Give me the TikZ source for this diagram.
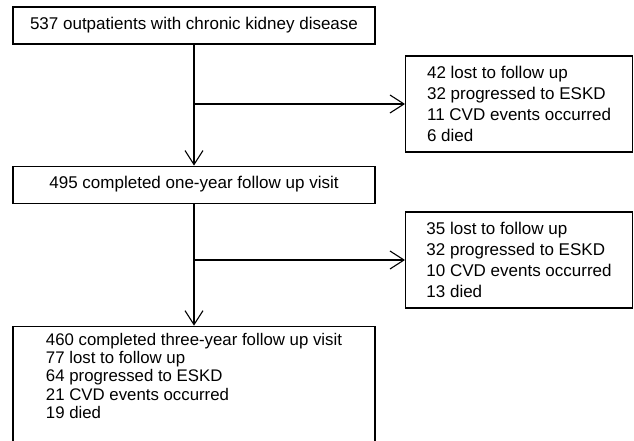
\documentclass[tikz,border=0pt]{standalone}
\usepackage{fontspec}
\setmainfont{Liberation Sans}
\usetikzlibrary{arrows.meta,positioning}

\begin{document}
\begin{tikzpicture}[
  x=1pt, y=-1pt,
  node distance=121pt,
  every node/.style={font=\fontsize{17}{21}\selectfont},
  mainbox/.style={draw,line width=1.1pt,minimum width=362pt,minimum height=37pt,align=center,inner sep=0pt},
  sidebox/.style={draw,line width=1.1pt,minimum width=227pt,minimum height=96pt,align=left,inner sep=0pt},
  arr/.style={-{Straight Barb[length=14pt,width=18pt,line width=1.1pt]},line width=1.1pt}
]
\fill[white] (0,0) rectangle (634,441);
\useasboundingbox (0,0) rectangle (634,441);

\node[mainbox] (start) at (194,25.5) {537 outpatients with chronic kidney disease};
\node[mainbox,below=of start] (visit1) {495 completed one-year follow up visit};
\node[mainbox,below=122pt of visit1,minimum height=0pt,inner ysep=7pt,text depth=30pt,align=left,font=\fontsize{16.8}{18.3}\selectfont] (visit3)
  {460 completed three-year follow up visit\\77 lost to follow up\\64 progressed to ESKD\\21 CVD events occurred\\19 died};
\node[sidebox,anchor=west] (loss1) at (405,104) {42 lost to follow up\\32 progressed to ESKD\\11 CVD events occurred\\6 died};
\node[sidebox,anchor=west] (loss2) at (405,260) {35 lost to follow up\\32 progressed to ESKD\\10 CVD events occurred\\13 died};

\coordinate (split1) at (start.south |- loss1.west);
\coordinate (split2) at (visit1.south |- loss2.west);

\draw[arr] (start) -- (visit1);
\draw[arr] (split1) -- (loss1);
\draw[arr] (visit1) -- (visit3);
\draw[arr] (split2) -- (loss2);
\end{tikzpicture}
\end{document}
